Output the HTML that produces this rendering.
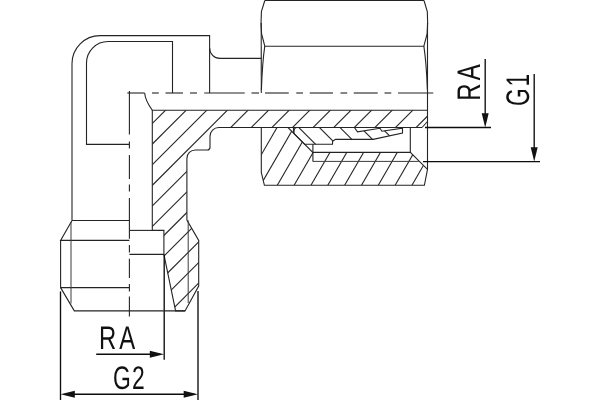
<!DOCTYPE html>
<html lang="en">
<head>
<meta charset="utf-8">
<title>Elbow fitting drawing</title>
<style>
html,body{margin:0;padding:0;background:#fff;}
body{width:600px;height:400px;overflow:hidden;}
svg{display:block;}
</style>
</head>
<body>
<svg width="600" height="400" viewBox="0 0 600 400">
<rect width="600" height="400" fill="#fff"/>
<g fill="none" stroke="#242424" stroke-width="1.1" stroke-linecap="butt" stroke-linejoin="miter">
<defs>
<clipPath id="cb"><path d="M152.3,110.3 L427.5,110.3 L427.5,127.5 L218.75,127.5 A8.75,8.75 0 0 0 210,136.25 L210,148.1 L208.75,150 L195.3,150 A8.4,8.4 0 0 0 186.9,158.4 L186.9,220 L198.7,240.4 L198.7,286 L185,310.9 L175.6,310.9 L163.9,254.4 L163.9,230.4 L152.3,230.4 Z"/></clipPath>
<clipPath id="cn"><path d="M261.3,127.5 L288,127.5 L312.8,152.4 L410.3,152.4 L427.5,169.4 L424.4,185.3 L264.4,185.3 L261.3,172.5 Z"/></clipPath>
<clipPath id="cr"><path d="M297,127.5 Q294,127.6 294,131.5 L294,133.6 L304.7,144.3 L332.5,144.3 L332.6,141.4 L335.5,139.4 L373.1,139.4 L402.5,133.1 L402.5,128.1 L381.9,131.25 L380,128.3 L357.5,131.9 L354.4,127.5 Z"/></clipPath>
</defs>
<g clip-path="url(#cb)">
<line x1="175.8" y1="100" x2="-44.2" y2="320"/>
<line x1="196.4" y1="100" x2="-23.6" y2="320"/>
<line x1="217" y1="100" x2="-3" y2="320"/>
<line x1="237.6" y1="100" x2="17.6" y2="320"/>
<line x1="258.2" y1="100" x2="38.2" y2="320"/>
<line x1="278.8" y1="100" x2="58.8" y2="320"/>
<line x1="299.4" y1="100" x2="79.4" y2="320"/>
<line x1="320" y1="100" x2="100" y2="320"/>
<line x1="340.6" y1="100" x2="120.6" y2="320"/>
<line x1="361.2" y1="100" x2="141.2" y2="320"/>
<line x1="381.8" y1="100" x2="161.8" y2="320"/>
<line x1="402.4" y1="100" x2="182.4" y2="320"/>
<line x1="423" y1="100" x2="203" y2="320"/>
<line x1="443.6" y1="100" x2="223.6" y2="320"/>
</g>
<line x1="427.5" y1="121.5" x2="422" y2="127.5"/>
<g clip-path="url(#cn)">
<line x1="243.65" y1="185.3" x2="284.07" y2="115.3"/>
<line x1="260.48" y1="185.3" x2="300.9" y2="115.3"/>
<line x1="277.31" y1="185.3" x2="317.73" y2="115.3"/>
<line x1="294.14" y1="185.3" x2="334.56" y2="115.3"/>
<line x1="310.97" y1="185.3" x2="351.39" y2="115.3"/>
<line x1="327.8" y1="185.3" x2="368.22" y2="115.3"/>
<line x1="344.63" y1="185.3" x2="385.05" y2="115.3"/>
<line x1="361.46" y1="185.3" x2="401.88" y2="115.3"/>
<line x1="378.29" y1="185.3" x2="418.71" y2="115.3"/>
<line x1="395.12" y1="185.3" x2="435.54" y2="115.3"/>
<line x1="411.95" y1="185.3" x2="452.37" y2="115.3"/>
<line x1="428.78" y1="185.3" x2="469.2" y2="115.3"/>
</g>
<g clip-path="url(#cr)">
<line x1="293.8" y1="122.5" x2="323.8" y2="152.5"/>
<line x1="314.4" y1="122.5" x2="344.4" y2="152.5"/>
<line x1="335" y1="122.5" x2="365" y2="152.5"/>
<line x1="355.6" y1="122.5" x2="385.6" y2="152.5"/>
<line x1="376.2" y1="122.5" x2="406.2" y2="152.5"/>
<line x1="396.8" y1="122.5" x2="426.8" y2="152.5"/>
</g>
<path d="M422,127.5 L218.75,127.5 A8.75,8.75 0 0 0 210,136.25 L210,148.1 L208.75,150 L195.3,150 A8.4,8.4 0 0 0 186.9,158.4 L186.9,220 L198.7,240.4 L198.7,286 L185,310.9 L175.6,310.9 L163.9,254.4 L163.9,230.4 L152.3,230.4 L152.3,110.3 L427.5,110.3"/>
<path d="M261.3,127.5 L288,127.5 L312.8,152.4 L410.3,152.4 L427.5,169.4 L424.4,185.3 L264.4,185.3 L261.3,172.5 Z"/>
<path d="M297,127.5 Q294,127.6 294,131.5 L294,133.6 L304.7,144.3 L332.5,144.3 L332.6,141.4 L335.5,139.4 L373.1,139.4 L402.5,133.1 L402.5,128.1 L381.9,131.25 L380,128.3 L357.5,131.9 L354.4,127.5 Z"/>
<line x1="293.5" y1="127.5" x2="293.5" y2="133.2"/>
<line x1="312.9" y1="144.3" x2="312.9" y2="161.5"/>
<line x1="312.9" y1="161.4" x2="418.8" y2="161.4" stroke-width="1" stroke="#3c3c3c"/>
<path d="M410.3,127.5 L410.3,152.4"/>
<path d="M427.5,23 L427.5,169.4"/>
<path d="M144.65,93 Q145.3,100.5 152.3,110.3"/>
<line x1="129.4" y1="230.4" x2="152.3" y2="230.4"/>
<line x1="129.4" y1="254.4" x2="163.9" y2="254.4"/>
<line x1="164.2" y1="254.4" x2="164.2" y2="359.7" stroke-width="1.35" stroke="#0c0c0c"/>
<line x1="188.2" y1="220.3" x2="188.2" y2="303" stroke-width="1" stroke="#3c3c3c"/>
<path d="M72,220.5 L72,63.6 A28,28 0 0 1 100,35.6 L209.6,35.6 L209.6,93"/>
<path d="M209.6,48.1 A10.3,10.3 0 0 0 219.9,58.4 L261.3,58.4"/>
<path d="M129.4,144.4 L86.5,144.4 L86.5,63 A21.5,21.5 0 0 1 108,41.5 L172.5,41.5 L172.5,93"/>
<path d="M264.8,0.5 L424,0.5"/>
<path d="M264.8,0.5 L261.4,11.5 Q260.6,23 261.6,34 L264.8,46.2 L423.85,46.2 L427.1,34 Q428.1,23 427.3,11.5 L424,0.5"/>
<path d="M264.8,46.2 Q262.4,62 261.4,90"/>
<path d="M423.85,46.2 Q426.3,62 427.4,90"/>
<path d="M261.2,23 L261.3,93"/>
<path d="M72,220.5 L129.4,220.5"/>
<path d="M72,220.5 L60.6,240.4 L129.4,240.4"/>
<path d="M60.6,240.4 L60.6,287.6 L129.4,287.6"/>
<path d="M60.6,287.6 L74.3,310.9 L185,310.9"/>
<line x1="71" y1="222" x2="71" y2="303.5" stroke-width="1" stroke="#3c3c3c"/>
<line x1="129.4" y1="91" x2="129.4" y2="134.6"/>
<line x1="129.4" y1="141.4" x2="129.4" y2="148.6"/>
<line x1="129.4" y1="155" x2="129.4" y2="179"/>
<line x1="129.4" y1="184.4" x2="129.4" y2="191.6"/>
<line x1="129.4" y1="198" x2="129.4" y2="238.75"/>
<line x1="129.4" y1="245" x2="129.4" y2="252.5"/>
<line x1="129.4" y1="258.75" x2="129.4" y2="278"/>
<line x1="129.4" y1="284" x2="129.4" y2="291.5"/>
<line x1="129.4" y1="296.4" x2="129.4" y2="316.5"/>
<line x1="127.3" y1="93" x2="144.65" y2="93"/>
<line x1="152" y1="93" x2="158.8" y2="93"/>
<line x1="165.5" y1="93" x2="183" y2="93"/>
<line x1="190" y1="93" x2="197" y2="93"/>
<line x1="204.25" y1="93" x2="244.75" y2="93"/>
<line x1="251.5" y1="93" x2="259" y2="93"/>
<line x1="265" y1="93" x2="288.75" y2="93"/>
<line x1="296.25" y1="93" x2="303" y2="93"/>
<line x1="309.75" y1="93" x2="333" y2="93"/>
<line x1="340.5" y1="93" x2="347.25" y2="93"/>
<line x1="353.75" y1="93" x2="377.75" y2="93"/>
<line x1="384.5" y1="93" x2="391.25" y2="93"/>
<line x1="398" y1="93" x2="433.25" y2="93"/>
<line x1="96.2" y1="354.2" x2="160" y2="354.2" stroke-width="1.35" stroke="#0c0c0c"/>
<polygon points="164,354.2 149.8,357.7 149.8,350.7" fill="#111" stroke="none"/>
<line x1="60.5" y1="291.4" x2="60.5" y2="400" stroke-width="1.35" stroke="#0c0c0c"/>
<line x1="198" y1="291" x2="198" y2="400" stroke-width="1.35" stroke="#0c0c0c"/>
<line x1="65" y1="394.2" x2="194" y2="394.2" stroke-width="1.35" stroke="#0c0c0c"/>
<polygon points="60.6,394.2 74.8,390.7 74.8,397.7" fill="#111" stroke="none"/>
<polygon points="197.9,394.2 183.7,397.7 183.7,390.7" fill="#111" stroke="none"/>
<line x1="425" y1="127.5" x2="491" y2="127.5" stroke-width="1.35" stroke="#0c0c0c"/>
<line x1="485.2" y1="59" x2="485.2" y2="120" stroke-width="1.35" stroke="#0c0c0c"/>
<polygon points="485.2,127.4 481.7,113.2 488.7,113.2" fill="#111" stroke="none"/>
<line x1="423" y1="161.6" x2="540" y2="161.6" stroke-width="1.35" stroke="#0c0c0c"/>
<line x1="534.2" y1="74" x2="534.2" y2="155" stroke-width="1.35" stroke="#0c0c0c"/>
<polygon points="534.2,161.5 530.7,147.3 537.7,147.3" fill="#111" stroke="none"/>
</g>

<g font-family="'Liberation Sans', sans-serif" font-size="32.7" fill="#111" stroke="none" text-rendering="geometricPrecision" style="filter:grayscale(1)">
<text transform="translate(98.94,349.4) scale(0.73,1)" x="0.00 27.76">RA</text>
<text transform="translate(112.95,388.5) scale(0.7,1)" x="0.00 27.29">G2</text>
<text transform="translate(480.4,100.76) rotate(-90) scale(0.73,1)" x="0.00 28.03">RA</text>
<text transform="translate(529.3,105.95) rotate(-90) scale(0.7,1)" x="0.00 27.87">G1</text>
</g>

</svg>
</body>
</html>
